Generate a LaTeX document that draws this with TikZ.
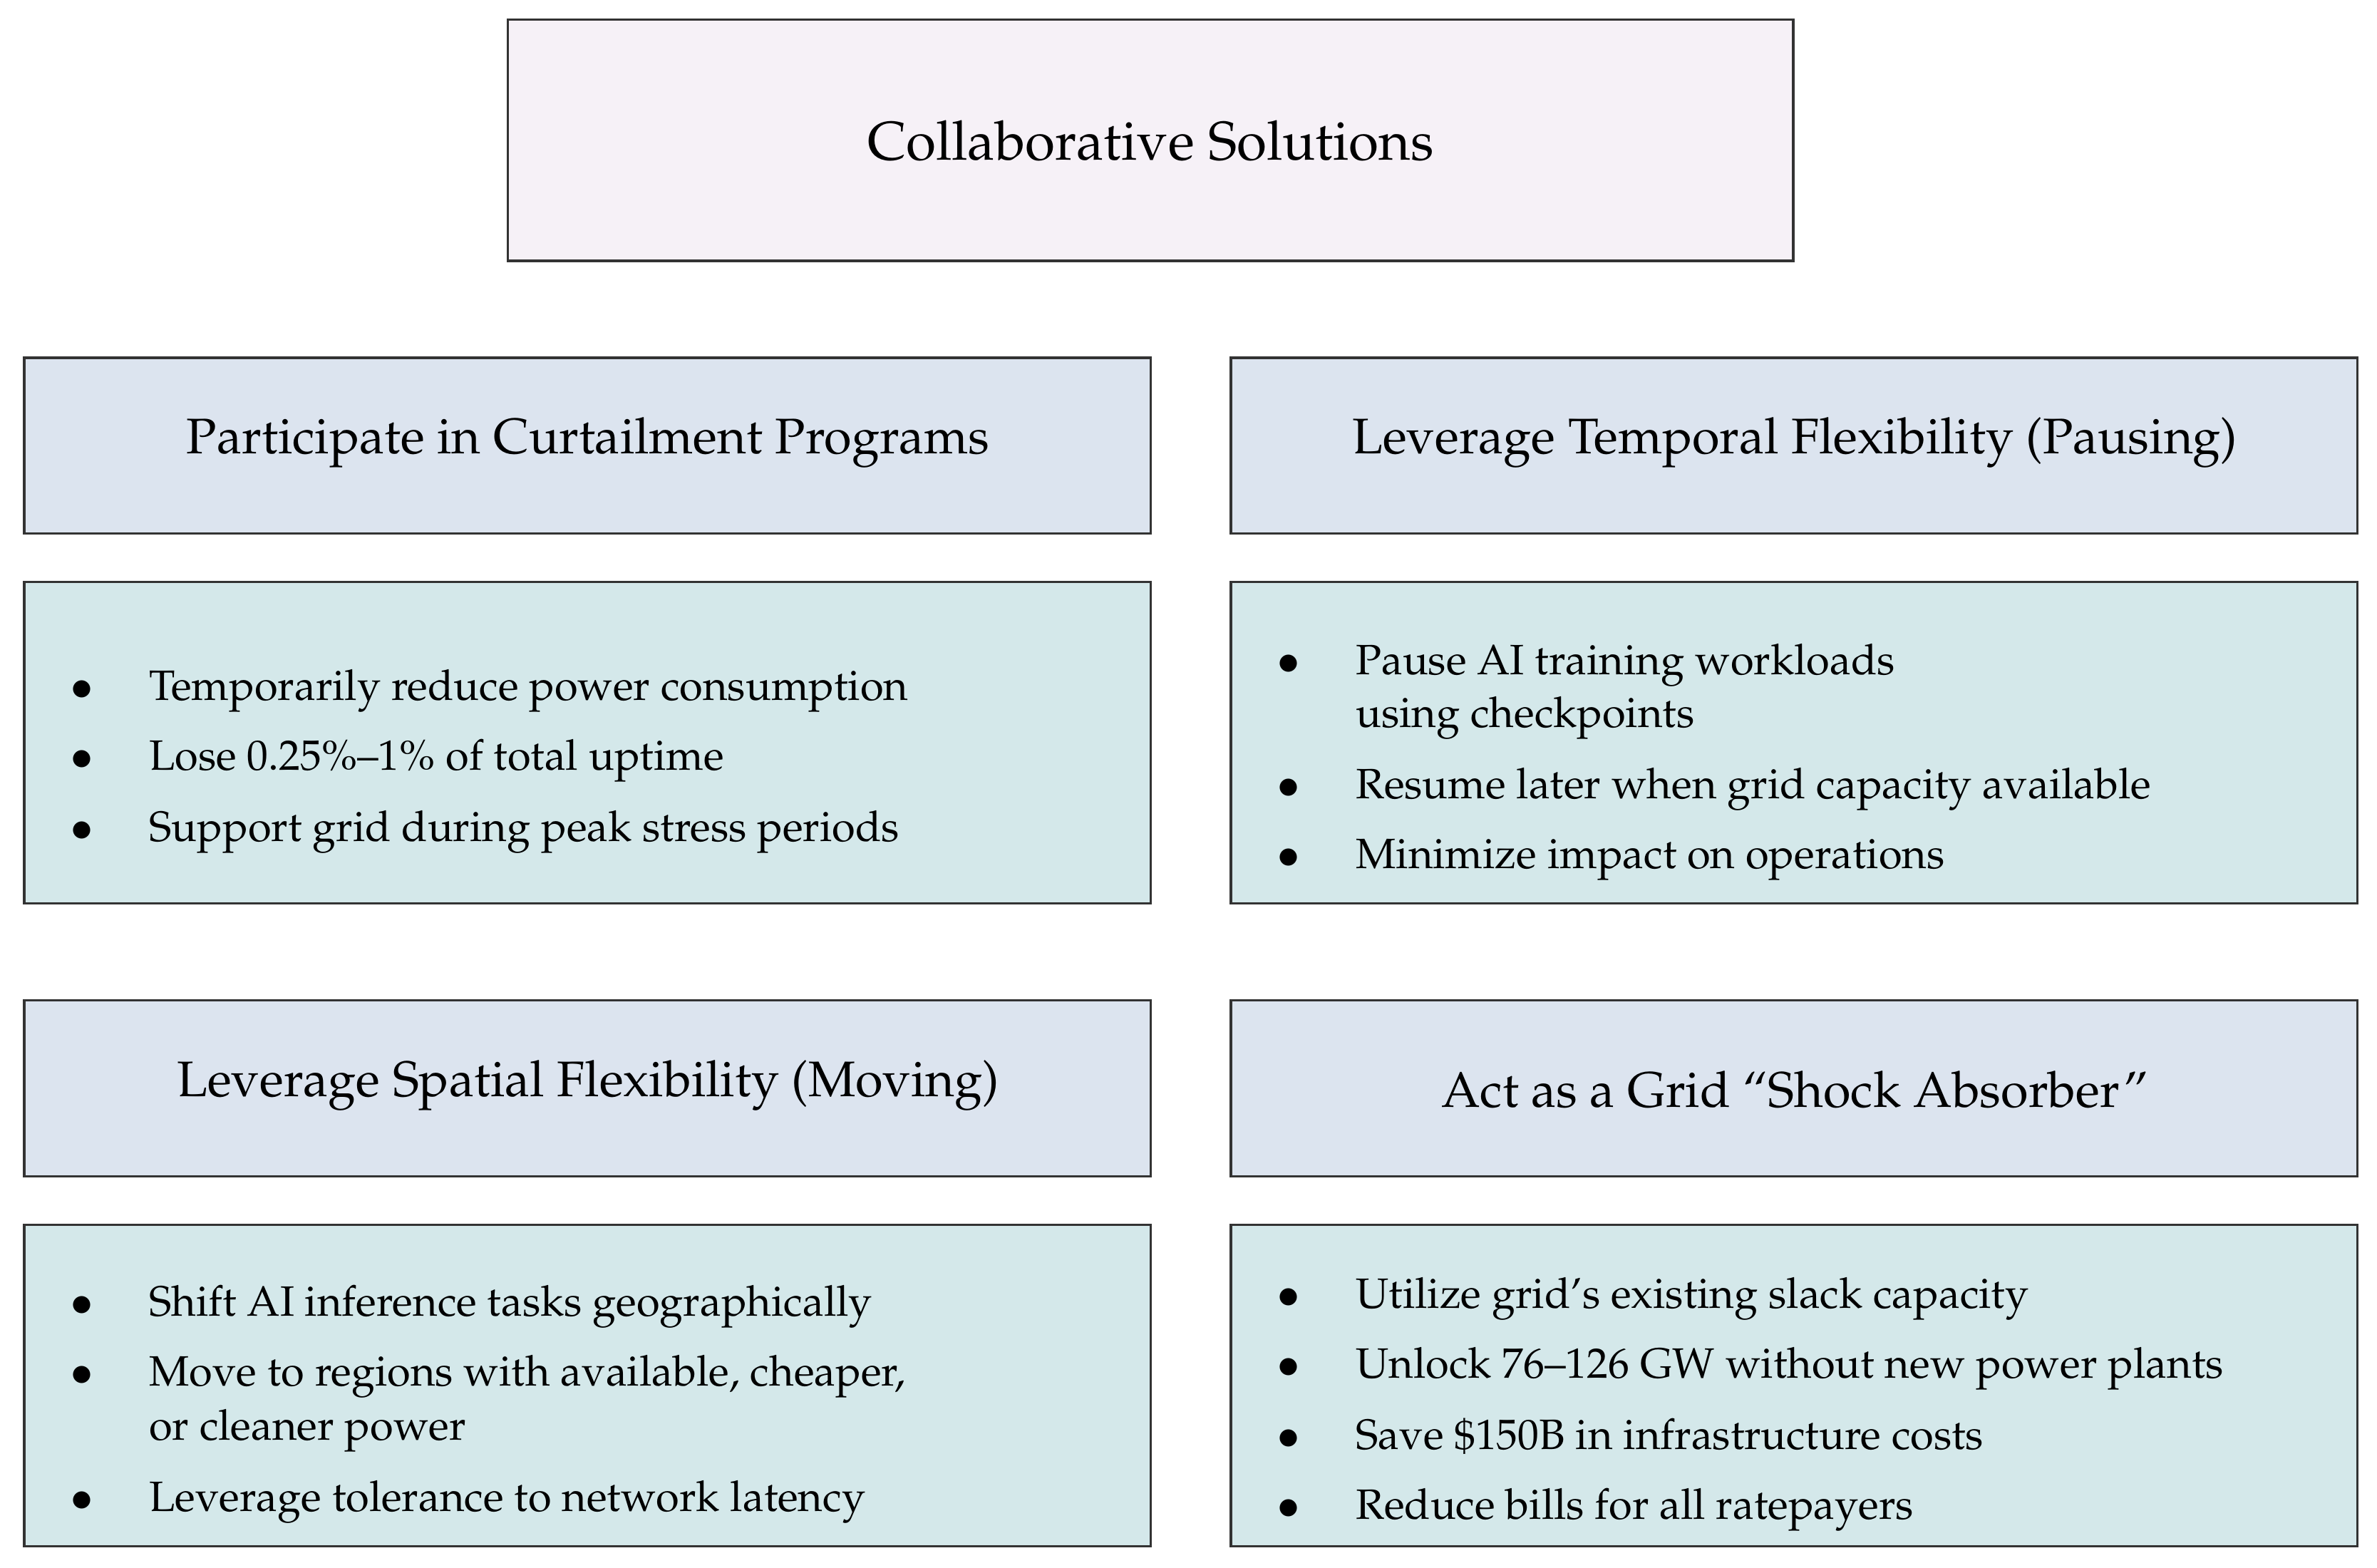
\documentclass[tikz,border=0pt]{standalone}
\usepackage[T1]{fontenc}
\usepackage{mathpazo}
\begin{document}
\begin{tikzpicture}[x=0.5pt,y=-0.5pt,
 box/.style={draw=black!80,line width=0.8pt},
 head/.style={box,fill=hd},
 body/.style={box,fill=bd},
 it/.style={anchor=base west,font=\fontsize{14}{17}\selectfont,inner sep=0},
 bl/.style={anchor=base,font=\fontsize{14}{17}\selectfont,inner sep=0},
 ht/.style={font=\fontsize{16.5}{20}\selectfont}]
\definecolor{hd}{HTML}{DCE4EF}
\definecolor{bd}{HTML}{D4E8EA}
\definecolor{tt}{HTML}{F6F1F7}
\useasboundingbox (0,0) rectangle (1568,1034);
\draw[box,fill=tt] (335,13) rectangle (1183,172);
\node[font=\fontsize{18}{22}\selectfont] (title) at (759,93) {Collaborative Solutions};
\draw[head] (16,236) rectangle (759,352);
\node[ht] (h1) at (388,292) {Participate in Curtailment Programs};
\draw[head] (812,236) rectangle (1555,352);
\node[ht] (h2) at (1184,292) {Leverage Temporal Flexibility (Pausing)};
\draw[head] (16,660) rectangle (759,776);
\node[ht] (h3) at (388,716) {Leverage Spatial Flexibility (Moving)};
\draw[head] (812,660) rectangle (1555,776);
\node[ht] (h4) at (1184,719) {Act as a Grid ``Shock Absorber''};
\draw[body] (16,384) rectangle (759,596);
\draw[body] (812,384) rectangle (1555,596);
\draw[body] (16,808) rectangle (759,1020);
\draw[body] (812,808) rectangle (1555,1020);
% left body1
\foreach \y/\t in {462/Temporarily reduce power consumption,508/Lose 0.25\%--1\% of total uptime,555/Support grid during peak stress periods}{
 \node[bl] at (54,\y) {$\bullet$}; \node[it] at (98,\y) {\t};}
% right body1
\foreach \y/\t in {445/Pause AI training workloads,527/Resume later when grid capacity available,573/Minimize impact on operations}{
 \node[bl] at (850,\y) {$\bullet$}; \node[it] at (894,\y) {\t};}
\node[it] at (894,480) {using checkpoints};
% left body2
\foreach \y/\t in {868/Shift AI inference tasks geographically,914/{Move to regions with available, cheaper,},997/Leverage tolerance to network latency}{
 \node[bl] at (54,\y) {$\bullet$}; \node[it] at (98,\y) {\t};}
\node[it] at (98,950) {or cleaner power};
% right body2
\foreach \y/\t in {863/Utilize grid's existing slack capacity,909/Unlock 76--126 GW without new power plants,956/Save \$150B in infrastructure costs,1002/Reduce bills for all ratepayers}{
 \node[bl] at (850,\y) {$\bullet$}; \node[it] at (894,\y) {\t};}
\end{tikzpicture}
\end{document}
